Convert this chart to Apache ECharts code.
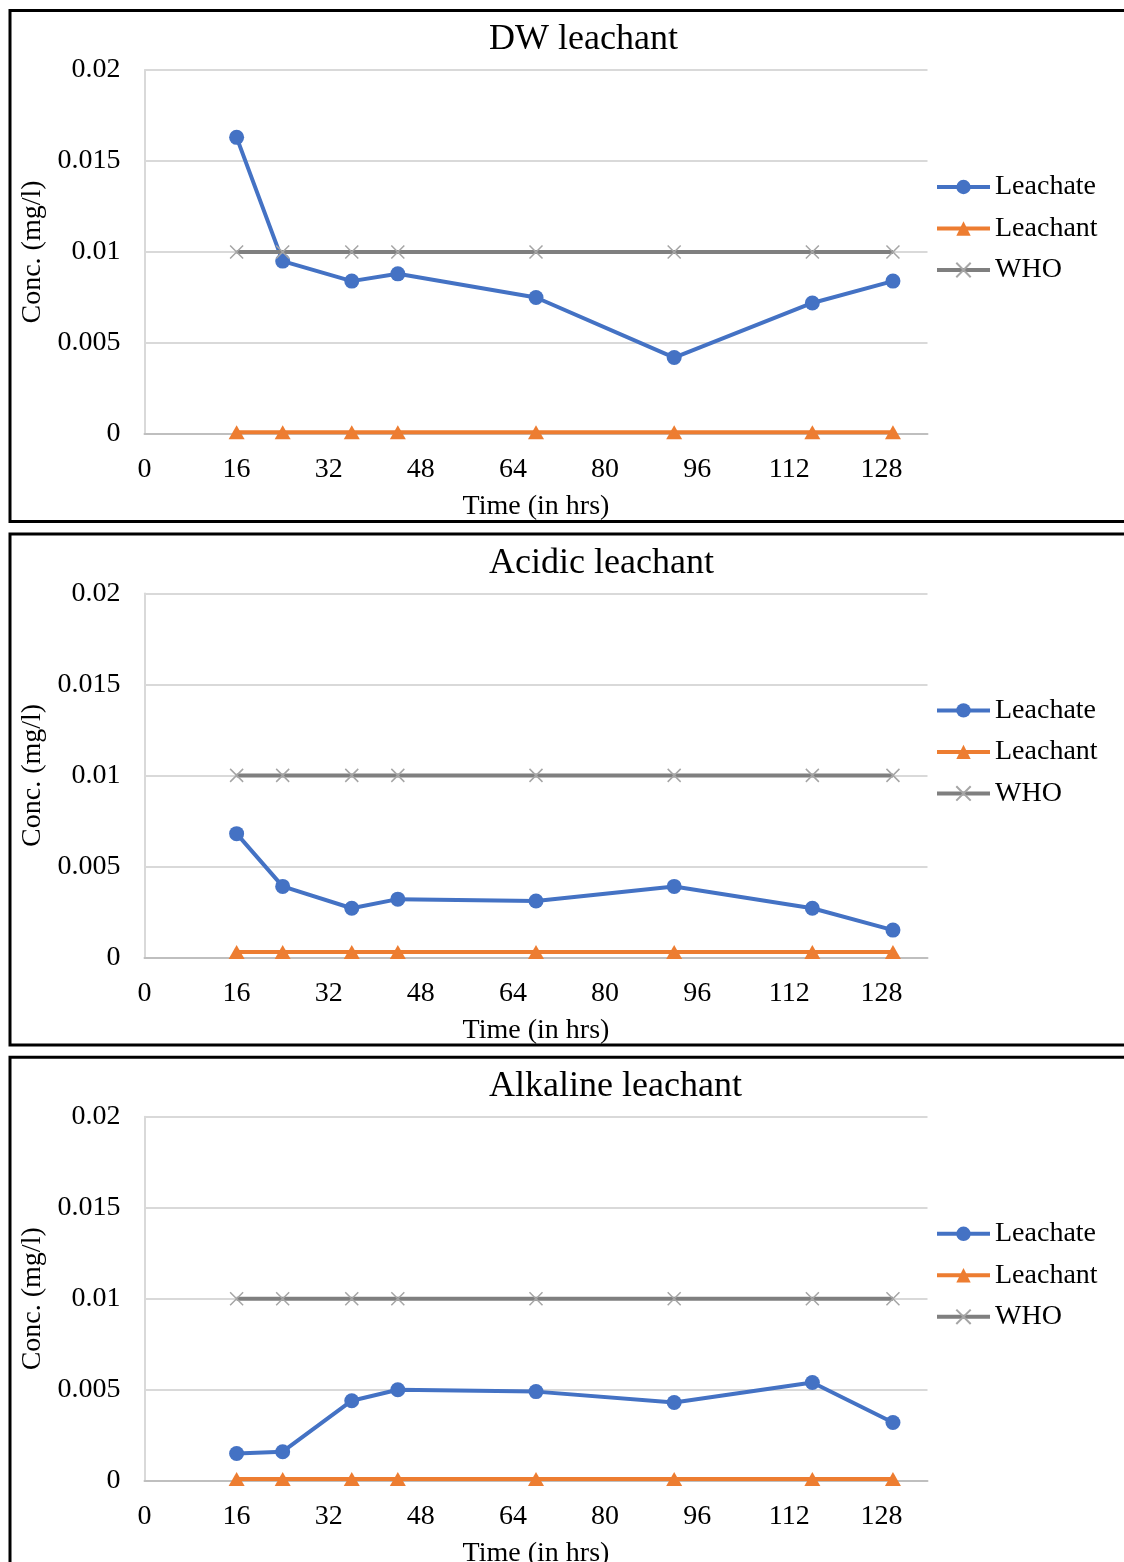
<!DOCTYPE html>
<html>
<head>
<meta charset="utf-8">
<script src="https://cdn.jsdelivr.net/npm/echarts@6/dist/echarts.min.js"></script>
<style>
  html, body { margin: 0; padding: 0; background: #ffffff; }
  #chart { width: 1124px; height: 1562px; }
</style>
</head>
<body>
<div id="chart"></div>
<script>
// Sampling times (hours) shared by all three leaching tests
const hours = [16, 24, 36, 44, 68, 92, 116, 130];

// Axis tick labels
const xTicks = [0, 16, 32, 48, 64, 80, 96, 112, 128];
const yTicks = [0, 0.005, 0.01, 0.015, 0.02];

const seriesNames = ['Leachate', 'Leachant', 'WHO'];
const panelTitles = ['DW leachant', 'Acidic leachant', 'Alkaline leachant'];

// Concentrations (mg/l)
const dwLeachate = [0.0163, 0.0095, 0.0084, 0.0088, 0.0075, 0.0042, 0.0072, 0.0084];
const dwLeachant = [0.0001, 0.0001, 0.0001, 0.0001, 0.0001, 0.0001, 0.0001, 0.0001];

const acidicLeachate = [0.0068, 0.0039, 0.0027, 0.0032, 0.0031, 0.0039, 0.0027, 0.0015];
const acidicLeachant = [0.0003, 0.0003, 0.0003, 0.0003, 0.0003, 0.0003, 0.0003, 0.0003];

const alkalineLeachate = [0.0015, 0.0016, 0.0044, 0.0050, 0.0049, 0.0043, 0.0054, 0.0032];
const alkalineLeachant = [0.0001, 0.0001, 0.0001, 0.0001, 0.0001, 0.0001, 0.0001, 0.0001];

// WHO guideline value
const whoLimit = [0.01, 0.01, 0.01, 0.01, 0.01, 0.01, 0.01, 0.01];

const panelData = [
  [dwLeachate, dwLeachant, whoLimit],
  [acidicLeachate, acidicLeachant, whoLimit],
  [alkalineLeachate, alkalineLeachant, whoLimit]
];

const FONT = "'Liberation Serif', 'Times New Roman', serif";
const BLUE = '#4472C4';
const ORANGE = '#ED7D31';
const GRAY_LINE = '#7F7F7F';
const GRAY_MARK = '#A5A5A5';
const CROSS = 'path://M0,0L10,10M10,0L0,10';
const LINE_W = 4;

const PANEL_STEP = 523.4;

const chart = echarts.init(document.getElementById('chart'), null, { renderer: 'canvas' });

const grids = [], xAxes = [], yAxes = [], series = [], legends = [], titles = [], frames = [];

function pair(arr) { return hours.map((h, j) => [h, arr[j]]); }

for (let i = 0; i < 3; i++) {
  const off = i * PANEL_STEP;

  // panel frame; its right edge runs past the canvas
  frames.push({
    type: 'rect',
    shape: { x: 10, y: 10.5 + off, width: 1200, height: 511 },
    style: { fill: 'none', stroke: '#000000', lineWidth: 3 },
    silent: true
  });

  titles.push({
    text: panelTitles[i],
    left: 489,
    top: 22 + off,
    padding: 0,
    textStyle: { fontFamily: FONT, fontSize: 36, fontWeight: 'normal', color: '#000000' }
  });

  grids.push({
    left: 144.5, width: 783, top: 70 + off, height: 364,
    outerBoundsMode: 'none', containLabel: false
  });

  xAxes.push({
    type: 'value',
    gridIndex: i,
    min: 0,
    max: 136,
    interval: 16,
    name: 'Time (in hrs)',
    nameLocation: 'middle',
    nameGap: 59,
    nameTextStyle: { fontFamily: FONT, fontSize: 28, color: '#000000' },
    axisLine: { show: true, onZero: false, lineStyle: { color: '#BFBFBF', width: 2 } },
    axisTick: { show: false },
    splitLine: { show: false },
    axisLabel: {
      fontFamily: FONT, fontSize: 28, color: '#000000', margin: 22,
      formatter: v => (xTicks.indexOf(v) >= 0 ? String(v) : '')
    }
  });

  yAxes.push({
    type: 'value',
    gridIndex: i,
    min: 0,
    max: 0.02,
    interval: 0.005,
    name: 'Conc. (mg/l)',
    nameLocation: 'middle',
    nameGap: 95,
    nameTextStyle: { fontFamily: FONT, fontSize: 28, color: '#000000' },
    axisLine: { show: true, lineStyle: { color: '#D9D9D9', width: 2 } },
    axisTick: { show: false },
    splitLine: { show: true, lineStyle: { color: '#D9D9D9', width: 2 } },
    axisLabel: {
      fontFamily: FONT, fontSize: 28, color: '#000000', margin: 24,
      padding: [5, 0, 0, 0],
      formatter: v => {
        const t = yTicks.find(y => Math.abs(y - v) < 1e-9);
        return t === undefined ? '' : String(t);
      }
    }
  });

  const [leachate, leachant, who] = panelData[i];

  series.push({
    name: seriesNames[0], type: 'line', xAxisIndex: i, yAxisIndex: i,
    data: pair(leachate),
    symbol: 'circle', symbolSize: 15,
    lineStyle: { color: BLUE, width: LINE_W },
    itemStyle: { color: BLUE },
    z: 3
  });
  series.push({
    name: seriesNames[1], type: 'line', xAxisIndex: i, yAxisIndex: i,
    data: pair(leachant),
    symbol: 'triangle', symbolSize: [16, 14],
    lineStyle: { color: ORANGE, width: LINE_W },
    itemStyle: { color: ORANGE },
    z: 3
  });
  series.push({
    name: seriesNames[2], type: 'line', xAxisIndex: i, yAxisIndex: i,
    data: pair(who),
    symbol: CROSS, symbolSize: 13,
    lineStyle: { color: GRAY_LINE, width: LINE_W },
    itemStyle: { color: GRAY_MARK, borderColor: GRAY_MARK, borderWidth: 1.5 },
    z: 3
  });

  legends.push({
    orient: 'vertical',
    left: 935,
    top: 173 + off,
    padding: 0,
    itemWidth: 53,
    itemHeight: 18,
    itemGap: 13.5,
    data: seriesNames,
    lineStyle: { width: LINE_W },
    textStyle: { fontFamily: FONT, fontSize: 28, color: '#000000', lineHeight: 28 }
  });
}

chart.setOption({
  animation: false,
  backgroundColor: '#ffffff',
  title: titles,
  grid: grids,
  xAxis: xAxes,
  yAxis: yAxes,
  legend: legends,
  series: series,
  graphic: frames
});
</script>
</body>
</html>
